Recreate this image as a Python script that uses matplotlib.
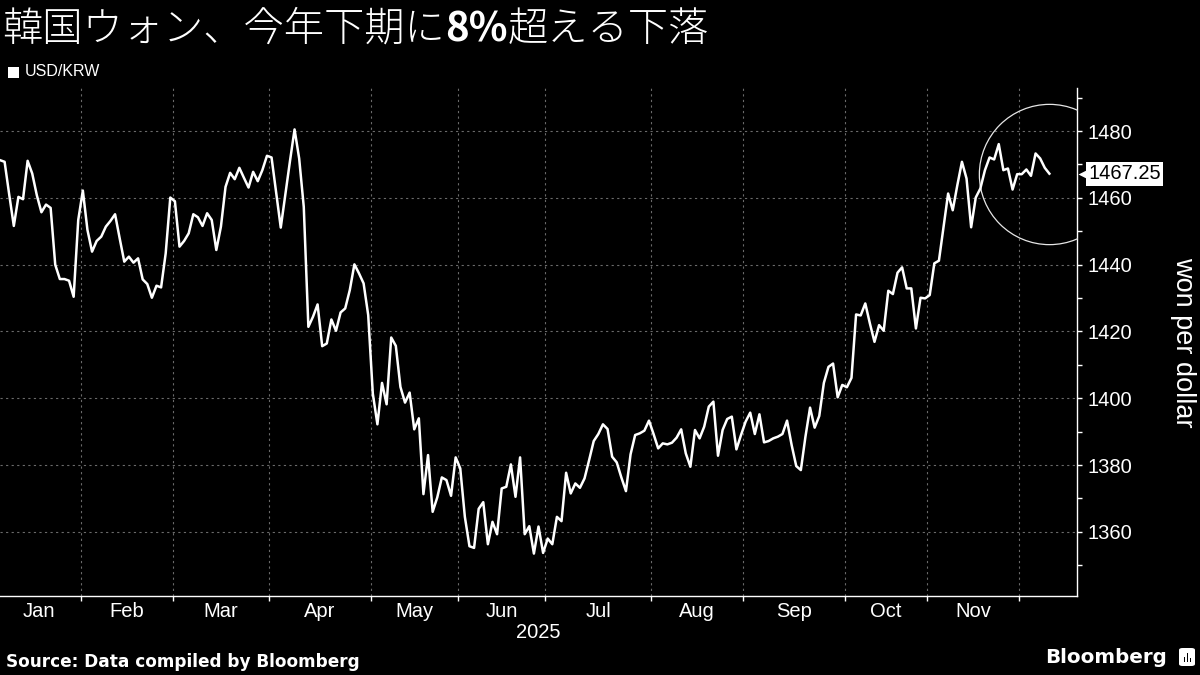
"""USD/KRW in 2025, Bloomberg-style dark chart"""

import matplotlib

matplotlib.use("Agg")
import matplotlib.pyplot as plt
import numpy as np
from matplotlib.patches import FancyBboxPatch, Rectangle

TITLE_START = "韓国ウォン、今年下期に"
TITLE_BOLD = "8%"
TITLE_END = "超える下落"
SERIES_NAME = "USD/KRW"
Y_LABEL = "won per dollar"
YEAR_LABEL = "2025"
SOURCE = "Source: Data compiled by Bloomberg"
LAST_LABEL = "1467.25"

# daily closes, one list per month (trading days only)
jan_close = [1471.3, 1470.8, 1461.0, 1451.6, 1460.3, 1459.6, 1471.1, 1467.3, 1460.8,
             1455.7, 1458.0, 1457.0, 1440.0, 1435.7, 1435.7, 1435.2, 1430.4, 1453.4]
feb_close = [1462.2, 1450.4, 1443.9, 1447.1, 1448.4, 1451.4, 1453.1, 1455.1, 1447.9, 1440.9,
             1442.4, 1440.6, 1441.9, 1435.6, 1434.2, 1430.1, 1433.7, 1433.2, 1443.4, 1460.1]
mar_close = [1459.0, 1445.4, 1447.1, 1449.4, 1455.1, 1454.2, 1451.6, 1455.4, 1453.4, 1444.4,
             1451.4, 1463.3, 1467.5, 1465.6, 1469.0, 1466.0, 1463.1, 1467.8, 1465.0, 1468.3,
             1472.6]
apr_close = [1472.1, 1461.6, 1451.1, 1461.0, 1471.0, 1480.5, 1471.8, 1457.3, 1421.4, 1424.4,
             1428.1, 1415.6, 1416.4, 1423.6, 1420.2, 1425.7, 1426.9, 1432.4, 1440.1, 1437.4,
             1434.4, 1424.9]
may_close = [1401.4, 1392.2, 1404.6, 1398.2, 1418.2, 1415.7, 1403.4, 1398.7, 1401.7, 1390.7,
             1394.0, 1371.3, 1383.0, 1366.0, 1370.3, 1376.3, 1375.5, 1370.8, 1382.3]
jun_close = [1379.0, 1364.5, 1355.7, 1355.2, 1366.9, 1368.9, 1356.3, 1363.0, 1359.3, 1373.0,
             1373.5, 1380.2, 1370.5, 1382.3, 1359.3, 1361.7, 1353.5, 1361.6, 1353.7]
jul_close = [1358.0, 1356.3, 1364.5, 1363.2, 1377.7, 1371.5, 1374.5, 1373.2, 1376.0, 1381.5,
             1387.2, 1389.3, 1392.2, 1390.8, 1382.5, 1380.8, 1376.3, 1372.2, 1383.2, 1389.0,
             1389.5, 1390.3, 1393.3]
aug_close = [1389.3, 1385.0, 1386.5, 1386.2, 1386.7, 1388.2, 1390.7, 1383.5, 1379.5, 1390.5,
             1388.0, 1391.5, 1397.5, 1399.0, 1382.8, 1390.5, 1393.8, 1394.5, 1384.7, 1389.0]
sep_close = [1393.0, 1395.7, 1389.3, 1395.2, 1386.8, 1387.2, 1388.0, 1388.5, 1389.3, 1393.3,
             1386.0, 1379.7, 1378.5, 1388.5, 1397.2, 1391.2, 1394.7, 1404.6, 1409.4, 1410.4,
             1400.3, 1404.0]
oct_close = [1403.3, 1406.1, 1425.1, 1424.8, 1428.4, 1422.4, 1416.9, 1421.9, 1420.2, 1432.2,
             1431.2, 1437.6, 1439.2, 1432.9, 1432.9, 1420.9, 1430.1, 1429.9]
nov_close = [1430.9, 1440.4, 1441.2, 1451.3, 1461.3, 1456.3, 1463.8, 1470.8, 1465.8, 1451.2,
             1460.1, 1462.8, 1468.3, 1472.1, 1471.5, 1476.1, 1468.3, 1468.8, 1462.5, 1467.1]
dec_close = [1467.1, 1468.5, 1466.6, 1473.3, 1471.8, 1469.0, 1467.25]

month_labels = ["Jan", "Feb", "Mar", "Apr", "May", "Jun", "Jul", "Aug", "Sep", "Oct", "Nov"]
y_ticks = [1360, 1380, 1400, 1420, 1440, 1460, 1480]
y_minor_ticks = [1350, 1370, 1390, 1410, 1430, 1450, 1470, 1490]

CJK = ["Noto Sans CJK JP", "DejaVu Sans"]
SANS = ["Liberation Sans", "DejaVu Sans"]
GRID = "#6a6a6a"

monthly = [jan_close, feb_close, mar_close, apr_close, may_close, jun_close,
           jul_close, aug_close, sep_close, oct_close, nov_close, dec_close]
values = np.concatenate(monthly)
x = np.arange(len(values))

lengths = np.array([len(m) for m in monthly])
bounds = np.cumsum(lengths)[:-1] - 0.5
starts = np.concatenate([[-0.5], bounds])
centers = (starts[:-1] + bounds) / 2

fig = plt.figure(figsize=(12, 6.75), dpi=100, facecolor="black")
ax = fig.add_axes([0.0, 1 - 596 / 675, 1077 / 1200, 508 / 675])
ax.set_facecolor("black")

ax.plot(x, values, color="white", lw=1.8, zorder=4)
# circle around the latest value
ax.plot(x[-1], values[-1], marker="o", ms=101, mfc="none", mec="#e6e6e6",
        mew=0.9, zorder=3)

ax.set_xlim(0, 234)
ax.set_ylim(1340.8, 1492.9)

for side in ("left", "top"):
    ax.spines[side].set_visible(False)
for side in ("bottom", "right"):
    ax.spines[side].set_color("white")
    ax.spines[side].set_linewidth(1.0)

ax.yaxis.tick_right()
ax.set_yticks(y_ticks)
ax.set_yticks(y_minor_ticks, minor=True)
ax.tick_params(axis="y", which="both", direction="out", length=3.6, width=1,
               colors="white", pad=4.3)
for lbl in ax.get_yticklabels():
    lbl.set_family(SANS)
    lbl.set_fontsize(14.5)

ax.set_xticks(bounds)
ax.set_xticklabels([])
ax.set_xticks(centers, minor=True)
ax.set_xticklabels(month_labels, minor=True, family=SANS, fontsize=14.5)
ax.tick_params(axis="x", which="major", direction="out", length=3.6, width=1,
               colors="white")
ax.tick_params(axis="x", which="minor", length=0, pad=4.5, colors="white")

ax.grid(axis="y", which="major", color=GRID, linestyle=(0, (2, 3)), lw=0.8)
ax.grid(axis="x", which="major", color=GRID, linestyle=(0, (2, 3)), lw=0.8)
ax.set_axisbelow(True)

# last value tag
tag_tf = ax.get_yaxis_transform()
ax.text(1.0105, values[-1], LAST_LABEL, transform=tag_tf, ha="left", va="center",
        fontsize=14.5, family=SANS, color="black", clip_on=False, zorder=6,
        bbox=dict(boxstyle="square,pad=0.12", fc="white", ec="none"))
ax.plot([1.0065], [values[-1]], marker="<", ms=9, color="white", mec="none",
        transform=tag_tf, clip_on=False, zorder=6)

fig.text(1183 / 1200, 1 - 342 / 675, Y_LABEL, rotation=270, ha="center", va="center",
         color="white", fontsize=19.5, family=SANS)
fig.text(538 / 1200, 1 - 633 / 675, YEAR_LABEL, ha="center", va="center",
         color="white", fontsize=14.5, family=SANS)

# title with bold "8%"
t1 = fig.text(2 / 1200, 1 - 41 / 675, TITLE_START, ha="left", va="baseline",
              color="white", fontsize=29, family=CJK, weight="light")
t2 = ax.annotate(TITLE_BOLD, xy=(1, 0), xycoords=t1, ha="left", va="bottom",
                 color="white", fontsize=29, family=CJK, weight="bold",
                 annotation_clip=False)
ax.annotate(TITLE_END, xy=(1, 0), xycoords=t2, ha="left", va="bottom",
            color="white", fontsize=29, family=CJK, weight="light",
            annotation_clip=False)

# legend
fig.patches.append(Rectangle((8 / 1200, 1 - 78 / 675), 11 / 1200, 11 / 675,
                             transform=fig.transFigure, fc="white", ec="none"))
fig.text(25 / 1200, 1 - 72 / 675, SERIES_NAME, ha="left", va="center",
         color="white", fontsize=11.5, family=SANS)

fig.text(6 / 1200, 1 - 667 / 675, SOURCE, ha="left", va="baseline",
         color="white", fontsize=12.2, family="DejaVu Sans", weight="bold")
fig.text(1167 / 1200, 1 - 663 / 675, "Bloomberg", ha="right", va="baseline",
         color="white", fontsize=14.3, family="DejaVu Sans", weight="bold")

# small logo mark
fig.patches.append(FancyBboxPatch((1179 / 1200, 1 - 666 / 675), 16 / 1200, 18 / 675,
                                  boxstyle="round,pad=0,rounding_size=0.003",
                                  transform=fig.transFigure, fc="white", ec="none"))
for bx, bh in [(1183.5, 5), (1186.5, 9), (1189.5, 4)]:
    fig.patches.append(Rectangle((bx / 1200, 1 - 662 / 675), 1.8 / 1200, bh / 675,
                                 transform=fig.transFigure, fc="black", ec="none"))

fig.savefig("out.png", dpi=100, facecolor="black")
plt.close(fig)
